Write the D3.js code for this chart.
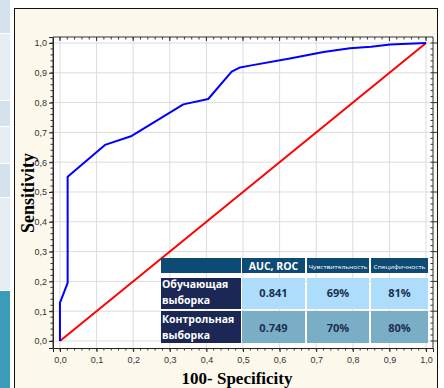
<!DOCTYPE html>
<html>
<head>
<meta charset="utf-8">
<script src="https://cdn.jsdelivr.net/npm/d3@7"></script>
<style>
  html, body { margin: 0; padding: 0; background: #ffffff; }
  svg { display: block; }
</style>
</head>
<body>
<svg id="chart" width="444" height="388"></svg>
<script>
// ROC curve (1 - specificity, sensitivity)
const rocFpr  = [0.000, 0.000, 0.021, 0.021, 0.123, 0.196, 0.337, 0.405, 0.469, 0.492, 0.519, 0.628, 0.720, 0.792, 0.850, 0.902, 1.000];
const rocTpr  = [0.000, 0.128, 0.195, 0.551, 0.658, 0.688, 0.794, 0.812, 0.904, 0.918, 0.924, 0.948, 0.970, 0.982, 0.987, 0.995, 1.000];
// reference line of a random classifier
const diagFpr = [0, 1];
const diagTpr = [0, 1];

const tickValues = [0, 0.1, 0.2, 0.3, 0.4, 0.5, 0.6, 0.7, 0.8, 0.9, 1.0];
const tickLabels = ["0,0", "0,1", "0,2", "0,3", "0,4", "0,5", "0,6", "0,7", "0,8", "0,9", "1,0"];

// summary table
const tableHeaders = ["", "AUC, ROC", "Чувствительность", "Специфичность"];
const sampleNames  = [["Обучающая", "выборка"], ["Контрольная", "выборка"]];
const aucValues    = ["0.841", "0.749"];
const sensValues   = ["69%", "70%"];
const specValues   = ["81%", "80%"];

const svg = d3.select("#chart");

// side strip of panels to the left of the frame
const strip = [
  [0, 33, "#d3e2ec"], [34, 100, "#e7eef3"], [101, 126, "#d3e2ec"], [127, 163, "#e7eef3"],
  [164, 197, "#d3e2ec"], [198, 290, "#e7eef3"], [291, 388, "#3c9bb9"]
];
svg.selectAll("rect.strip").data(strip).join("rect")
  .attr("class", "strip")
  .attr("x", 0).attr("width", 10)
  .attr("y", d => d[0]).attr("height", d => d[1] - d[0])
  .attr("fill", d => d[2]);

// outer frame
svg.append("rect")
  .attr("x", 14.5).attr("y", 8.5).attr("width", 423).attr("height", 385)
  .attr("fill", "#fdf8ec").attr("stroke", "#111").attr("stroke-width", 1);

const L = 53, R = 433, T = 37, B = 348;
const x = d3.scaleLinear().domain([-0.019, 1.019]).range([L, R]);
const y = d3.scaleLinear().domain([-0.0235, 1.0201]).range([B, T]);

// plot area
svg.append("rect")
  .attr("x", L).attr("y", T).attr("width", R - L).attr("height", B - T)
  .attr("fill", "#ffffff");

// grid
const grid = svg.append("g");
grid.selectAll("line.gx").data(tickValues).join("line")
  .attr("x1", d => x(d)).attr("x2", d => x(d))
  .attr("y1", T).attr("y2", B)
  .attr("stroke", "#dcdcdc").attr("stroke-width", 1);
grid.selectAll("line.gy").data(tickValues).join("line")
  .attr("y1", d => y(d)).attr("y2", d => y(d))
  .attr("x1", L).attr("x2", R)
  .attr("stroke", "#dcdcdc").attr("stroke-width", 1);

// axes
const minorTicks = d3.range(0, 51).map(i => i * 0.02);
const fmt = d => tickLabels[Math.round(d * 10)];

const axB = d3.axisBottom(x).tickValues(tickValues).tickFormat(fmt).tickSize(4).tickPadding(5);
const axL = d3.axisLeft(y).tickValues(tickValues).tickFormat(fmt).tickSize(4).tickPadding(2);

function styleAxis(g) {
  g.select(".domain").attr("stroke", "#222");
  g.selectAll(".tick line").attr("stroke", "#222");
  g.selectAll("text").attr("fill", "#333").attr("font-family", "Liberation Sans, Arial, sans-serif").attr("font-size", 9);
}
svg.append("g").attr("transform", `translate(0,${B})`).call(axB).call(styleAxis);
svg.append("g").attr("transform", `translate(${L},0)`).call(axL).call(styleAxis);

// minor ticks on all four sides
const mt = svg.append("g").attr("stroke", "#333").attr("stroke-width", 1);
mt.selectAll("line.mb").data(minorTicks).join("line")
  .attr("x1", d => x(d)).attr("x2", d => x(d)).attr("y1", B).attr("y2", B + 2.5);
mt.selectAll("line.ml").data(minorTicks).join("line")
  .attr("y1", d => y(d)).attr("y2", d => y(d)).attr("x1", L).attr("x2", L - 2.5);
mt.selectAll("line.mt").data(minorTicks).join("line")
  .attr("x1", d => x(d)).attr("x2", d => x(d)).attr("y1", T).attr("y2", T + 2.5);
mt.selectAll("line.mr").data(minorTicks).join("line")
  .attr("y1", d => y(d)).attr("y2", d => y(d)).attr("x1", R).attr("x2", R - 2.5);
mt.selectAll("line.Mt").data(tickValues).join("line")
  .attr("x1", d => x(d)).attr("x2", d => x(d)).attr("y1", T).attr("y2", T + 4);
mt.selectAll("line.Mr").data(tickValues).join("line")
  .attr("y1", d => y(d)).attr("y2", d => y(d)).attr("x1", R).attr("x2", R + 4);

// frame of the plot
svg.append("path")
  .attr("d", `M${L},${B}V${T}H${R}V${B}`)
  .attr("fill", "none").attr("stroke", "#333").attr("stroke-width", 1);

// lines
const line = d3.line().x(d => x(d[0])).y(d => y(d[1]));
svg.append("path")
  .datum(diagFpr.map((v, i) => [v, diagTpr[i]]))
  .attr("d", line).attr("fill", "none").attr("stroke", "#ff0000").attr("stroke-width", 2);
svg.append("path")
  .datum(rocFpr.map((v, i) => [v, rocTpr[i]]))
  .attr("d", line).attr("fill", "none").attr("stroke", "#0000ff").attr("stroke-width", 2)
  .attr("stroke-linejoin", "round");

// axis titles
svg.append("text")
  .attr("x", 237).attr("y", 384).attr("text-anchor", "middle")
  .attr("font-family", "Liberation Serif, Times New Roman, serif").attr("font-weight", "bold")
  .attr("font-size", 17).attr("fill", "#000")
  .text("100- Specificity");
svg.append("text")
  .attr("transform", "translate(34,193) rotate(-90)").attr("text-anchor", "middle")
  .attr("font-family", "Liberation Serif, Times New Roman, serif").attr("font-weight", "bold")
  .attr("font-size", 18).attr("fill", "#000")
  .text("Sensitivity");

// summary table
const colX = [161, 242, 307, 371];
const colW = [80, 63, 62, 57];
const rowY = [258, 278, 311];
const rowH = [15, 31, 32];
const tbl = svg.append("g");
const cellFill = (r, c) => {
  if (r === 0) return "#0d4a74";
  if (c === 0) return "#1b2755";
  return r === 1 ? "#aedcfb" : "#7aaec6";
};
const cells = [];
for (let r = 0; r < 3; r++) for (let c = 0; c < 4; c++) cells.push({ r, c });
tbl.selectAll("rect").data(cells).join("rect")
  .attr("x", d => colX[d.c]).attr("y", d => rowY[d.r])
  .attr("width", d => colW[d.c]).attr("height", d => rowH[d.r])
  .attr("fill", d => cellFill(d.r, d.c));

const font = "Open Sans, Liberation Sans, sans-serif";
// header
tbl.append("text").attr("x", colX[1] + colW[1] / 2).attr("y", 270)
  .attr("text-anchor", "middle").attr("font-family", font).attr("font-weight", "bold")
  .attr("font-size", 10.5).attr("fill", "#fff").text(tableHeaders[1]);
[2, 3].forEach(c => {
  tbl.append("text").attr("x", colX[c] + colW[c] / 2).attr("y", 268.5)
    .attr("text-anchor", "middle").attr("font-family", font)
    .attr("font-size", 6).attr("fill", "#fff")
    .attr("textLength", c === 2 ? 59 : 52).attr("lengthAdjust", "spacingAndGlyphs")
    .text(tableHeaders[c]);
});
// rows
const rowBase = [[287.5, 304], [322.5, 339]];
sampleNames.forEach((lines, i) => {
  lines.forEach((s, j) => {
    tbl.append("text").attr("x", 162).attr("y", rowBase[i][j])
      .attr("font-family", font).attr("font-weight", "bold")
      .attr("font-size", 10.5).attr("fill", "#fff").text(s);
  });
  const vy = i === 0 ? 297 : 331.5;
  [aucValues[i], sensValues[i], specValues[i]].forEach((v, k) => {
    tbl.append("text").attr("x", colX[k + 1] + colW[k + 1] / 2).attr("y", vy)
      .attr("text-anchor", "middle").attr("font-family", font).attr("font-weight", "bold")
      .attr("font-size", 11).attr("fill", "#1b2f50").text(v);
  });
});
</script>
</body>
</html>
